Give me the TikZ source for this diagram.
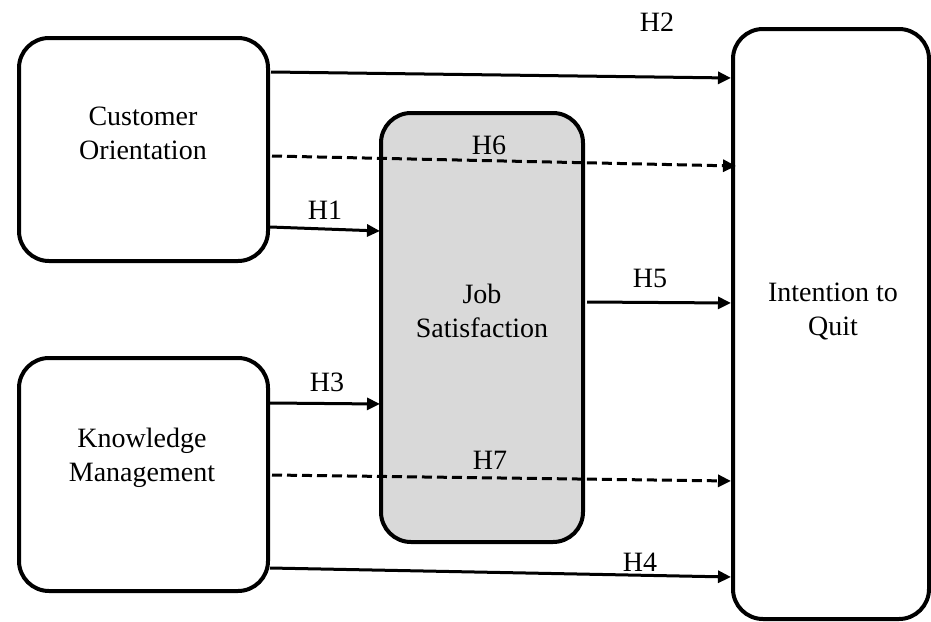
\documentclass[tikz,border=0pt]{standalone}
\usepackage{fontspec}
\setmainfont{Liberation Serif}
\usetikzlibrary{arrows.meta,calc}
\begin{document}
\begin{tikzpicture}[x=1pt,y=-1pt,
  box/.style={draw=black,line width=4pt,rounded corners=30pt,inner sep=0pt,outer sep=0pt},
  txt/.style={font=\fontsize{28}{34}\selectfont,align=center,inner sep=0pt},
  lbl/.style={font=\fontsize{28}{34}\selectfont,inner sep=0pt},
  arr/.style={line width=3pt,-{Triangle[length=13pt,width=12pt]}},
  darr/.style={arr,dash pattern=on 10pt off 5pt}]
\useasboundingbox (0,0) rectangle (931,621);
\node[box,minimum width=249pt,minimum height=223pt] (co) at (143.5,149.5) {};
\node[box,minimum width=249pt,minimum height=233pt] (km) at (143.5,474.5) {};
\node[box,fill={rgb,255:red,217;green,217;blue,217},minimum width=202pt,minimum height=429pt] (js) at (482,327.5) {};
\node[box,minimum width=196pt,minimum height=590pt] (iq) at (831,324) {};
\node[txt] (tco) at (143,133) {Customer\\Orientation};
\node[txt] (tkm) at (142,458) {Knowledge\\Management};
\node[txt] (tjs) at (482,311) {Job\\Satisfaction};
\node[txt] (tiq) at (833,311) {Intention to\\Quit};
\draw[arr] ($(co.north east)+(3,34)$) -- ($(iq.north west)+(-2,49)$);
\draw[darr] ($(co.north east)+(4,118)$) -- ($(iq.north west)+(3,137)$);
\draw[arr] ($(co.north east)+(2,189)$) -- ($(js.north west)+(-1,118)$);
\draw[arr] ($(js.north east)+(4,189)$) -- ($(iq.north west)+(-2,274)$);
\draw[arr] ($(km.north east)+(2,45)$) -- ($(js.north west)+(-1,291)$);
\draw[darr] ($(km.north east)+(4,117)$) -- ($(iq.north west)+(-2,452)$);
\draw[arr] ($(km.north east)+(2,210)$) -- ($(iq.north west)+(-2,548)$);
\node[lbl] (lh2) at (657,22) {H2};
\node[lbl] (lh6) at (489,145) {H6};
\node[lbl] (lh1) at (325,210) {H1};
\node[lbl] (lh5) at (650,278) {H5};
\node[lbl] (lh3) at (327,382) {H3};
\node[lbl] (lh7) at (490,460) {H7};
\node[lbl] (lh4) at (640,562) {H4};
\end{tikzpicture}
\end{document}
